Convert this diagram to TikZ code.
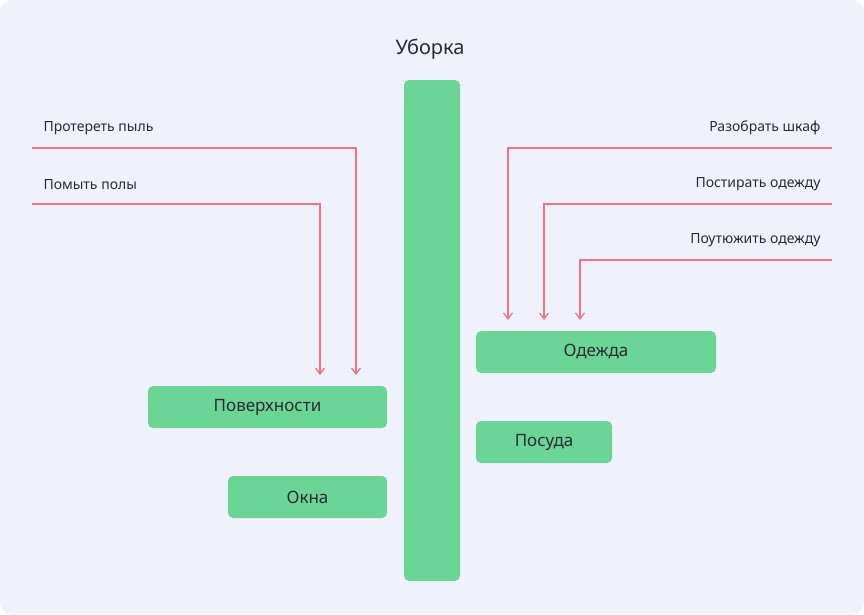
\documentclass[tikz,border=0pt]{standalone}
\usepackage{fontspec}
\setmainfont{Noto Sans}
\usetikzlibrary{arrows.meta}
\definecolor{bg}{HTML}{F0F2FB}
\definecolor{gr}{HTML}{6AD596}
\definecolor{pk}{HTML}{F07488}
\definecolor{tx}{HTML}{2B2B33}
\begin{document}
\begin{tikzpicture}[x=1pt,y=-1pt,
  box/.style={fill=gr,rounded corners=5pt,draw=none},
  lab/.style={font=\fontsize{14}{16}\selectfont,text=tx},
  btxt/.style={font=\fontsize{17}{20}\selectfont,text=tx},
  con/.style={draw=pk,line width=1.3pt,-{Straight Barb[length=6pt,width=9pt]}}]
\useasboundingbox (0,0) rectangle (864,614);
\fill[bg,rounded corners=12pt] (0,0) rectangle (864,614);
\node[font=\fontsize{20}{24}\selectfont,text=tx] (title) at (430,49) {Уборка};
\fill[box] (404,80) rectangle (460,581);
\node[box,minimum width=239pt,minimum height=42pt,btxt] (pov) at (267.5,407) {Поверхности};
\node[box,minimum width=159pt,minimum height=42pt,btxt] (okn) at (307.5,497) {Окна};
\node[box,minimum width=240pt,minimum height=42pt,btxt] (ode) at (596,352) {Одежда};
\node[box,minimum width=136pt,minimum height=42pt,btxt] (pos) at (544,442) {Посуда};
\node[lab,anchor=west] (l1) at (40,128) {Протереть пыль};
\node[lab,anchor=west] (l2) at (40,185) {Помыть полы};
\node[lab,anchor=east] (r1) at (824,128) {Разобрать шкаф};
\node[lab,anchor=east] (r2) at (824,184) {Постирать одежду};
\node[lab,anchor=east] (r3) at (824,240) {Поутюжить одежду};
\coordinate (a1) at (32,148); \coordinate (a2) at (32,204);
\coordinate (b1) at (832,148); \coordinate (b2) at (832,204); \coordinate (b3) at (832,260);
\draw[con] (a1) -- (356,148) -- (356,375);
\draw[con] (a2) -- (320,204) -- (320,375);
\draw[con] (b1) -- (508,148) -- (508,320);
\draw[con] (b2) -- (544,204) -- (544,320);
\draw[con] (b3) -- (580,260) -- (580,320);
\end{tikzpicture}
\end{document}
